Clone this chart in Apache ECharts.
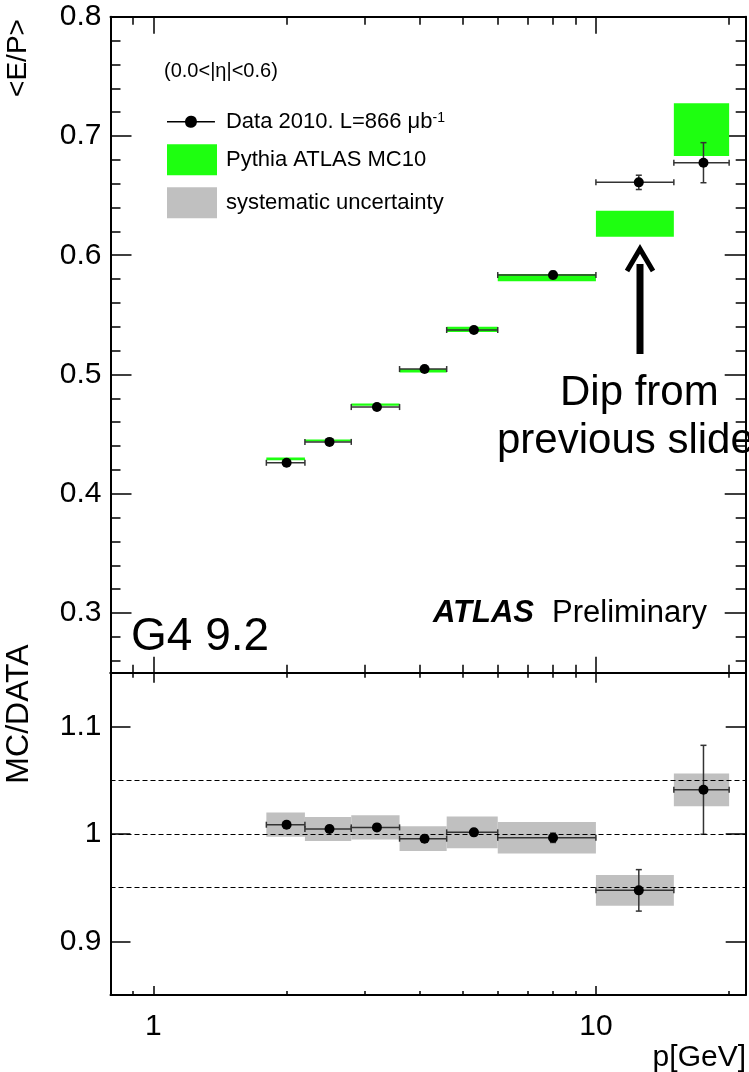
<!DOCTYPE html>
<html>
<head>
<meta charset="utf-8">
<title>E/P vs p</title>
<script src="https://cdn.jsdelivr.net/npm/echarts@6.0.0/dist/echarts.min.js"></script>
<style>
html, body { margin: 0; padding: 0; background: #fff; }
#main { width: 749px; height: 1072px; }
</style>
</head>
<body>
<div id="main"></div>
<script>
// bins in p [GeV]
var binLo = [1.8, 2.2, 2.8, 3.6, 4.6, 6, 10, 15];
var binHi = [2.2, 2.8, 3.6, 4.6, 6, 10, 15, 20];
var binMid = [2.0, 2.5, 3.2, 4.1, 5.3, 8, 12.5, 17.5];

// upper pad: <E/P>
var dataEP = [0.426, 0.4435, 0.4727, 0.5046, 0.5373, 0.5834, 0.6611, 0.6776];
var dataErr = [0.002, 0.002, 0.002, 0.002, 0.002, 0.003, 0.006, 0.0168];
var mcEP = [0.4293, 0.4447, 0.4747, 0.5031, 0.5379, 0.5813, 0.6264, 0.7053];
var mcErr = [0.0012, 0.0009, 0.0009, 0.0015, 0.0022, 0.003, 0.0109, 0.0221];

// lower pad: MC/DATA
var ratio = [1.0085, 1.0045, 1.006, 0.9955, 1.0014, 0.9963, 0.9474, 1.041];
var ratioErr = [0.003, 0.003, 0.003, 0.003, 0.003, 0.0043, 0.0193, 0.0414];
var systErr = [0.0113, 0.0112, 0.0113, 0.0115, 0.0147, 0.0147, 0.0143, 0.0152];
var refLines = [0.95, 1, 1.05];

// ticks
var xTicksMajor = [1, 10];
var xTicksMinor = [0.9, 2, 3, 4, 5, 6, 7, 8, 9, 20];
var yTicksTop = [0.3, 0.4, 0.5, 0.6, 0.7, 0.8];
var yTicksTopMinor = [0.26, 0.28, 0.32, 0.34, 0.36, 0.38, 0.42, 0.44, 0.46, 0.48,
    0.52, 0.54, 0.56, 0.58, 0.62, 0.64, 0.66, 0.68, 0.72, 0.74, 0.76, 0.78];
var yTicksBottom = [0.9, 1, 1.1];

var DATA_NAME = 'Data 2010. L=866 μb-1';
var MC_NAME = 'Pythia ATLAS MC10';
var SYST_NAME = 'systematic uncertainty';
var FONT = '"Liberation Sans", Arial, Helvetica, sans-serif';
var GREEN = '#1eff10';
var GREY = '#c0c0c0';
var DATA_ICON = 'path://M0,5.3H18.04A6,6 0 0 1 29.96,5.3H48V6.7H29.96A6,6 0 0 1 18.04,6.7H0Z';

var mcData = [], dataPts = [], systData = [], ratioPts = [];
for (var i = 0; i < binLo.length; i++) {
    mcData.push([binLo[i], binHi[i], mcEP[i], mcErr[i]]);
    dataPts.push([binLo[i], binHi[i], binMid[i], dataEP[i], dataErr[i]]);
    systData.push([binLo[i], binHi[i], ratio[i], systErr[i]]);
    ratioPts.push([binLo[i], binHi[i], binMid[i], ratio[i], ratioErr[i]]);
}

function xAx(grid, pos, ticks, len, line, labels) {
    return {
        type: 'log', logBase: 10, gridIndex: grid, position: pos, min: 0.8, max: 21.8,
        axisLine: {show: line, onZero: false, lineStyle: {color: '#000', width: 2}},
        axisTick: {show: true, inside: true, length: len, customValues: ticks, lineStyle: {color: '#000', width: 1.5}},
        axisLabel: labels ? {show: true, customValues: labels, margin: 17, color: '#000', fontSize: 30, fontFamily: FONT} : {show: false},
        splitLine: {show: false}
    };
}

function yAx(grid, pos, min, max, ticks, len, line, labels) {
    return {
        type: 'value', gridIndex: grid, position: pos, min: min, max: max,
        axisLine: {show: line, onZero: false, lineStyle: {color: '#000', width: 2}},
        axisTick: {show: true, inside: true, length: len, customValues: ticks, lineStyle: {color: '#000', width: 1.5}},
        axisLabel: labels ? {show: true, customValues: labels, margin: 9, color: '#000', fontSize: 30, fontFamily: FONT} : {show: false},
        splitLine: {show: false}
    };
}

function boxRenderer(color) {
    return function (params, api) {
        var p1 = api.coord([api.value(0), api.value(2) + api.value(3)]);
        var p2 = api.coord([api.value(1), api.value(2) - api.value(3)]);
        return {
            type: 'rect',
            shape: {x: p1[0], y: p1[1], width: p2[0] - p1[0], height: p2[1] - p1[1]},
            style: {fill: color}
        };
    };
}

function renderPoint(params, api) {
    var val = api.value(3), err = api.value(4);
    var c = api.coord([api.value(2), val]);
    var xl = api.coord([api.value(0), val])[0];
    var xr = api.coord([api.value(1), val])[0];
    var yt = api.coord([api.value(2), val + err])[1];
    var yb = api.coord([api.value(2), val - err])[1];
    var ls = {stroke: '#333', lineWidth: 1.5};
    return {
        type: 'group',
        children: [
            {type: 'line', shape: {x1: xl, y1: c[1], x2: xr, y2: c[1]}, style: ls},
            {type: 'line', shape: {x1: xl, y1: c[1] - 3, x2: xl, y2: c[1] + 3}, style: ls},
            {type: 'line', shape: {x1: xr, y1: c[1] - 3, x2: xr, y2: c[1] + 3}, style: ls},
            {type: 'line', shape: {x1: c[0], y1: yt, x2: c[0], y2: yb}, style: ls},
            {type: 'line', shape: {x1: c[0] - 3, y1: yt, x2: c[0] + 3, y2: yt}, style: ls},
            {type: 'line', shape: {x1: c[0] - 3, y1: yb, x2: c[0] + 3, y2: yb}, style: ls},
            {type: 'circle', shape: {cx: c[0], cy: c[1], r: 5}, style: {fill: '#000'}}
        ]
    };
}

var chart = echarts.init(document.getElementById('main'));

var option = {
    backgroundColor: '#fff',
    animation: false,
    grid: [
        {left: 110.5, right: 3.3, top: 16.7, height: 656, outerBoundsMode: 'none'},
        {left: 110.5, right: 3.3, top: 672.7, height: 322.3, outerBoundsMode: 'none'}
    ],
    xAxis: [
        xAx(0, 'bottom', xTicksMajor, 16, true, null),
        xAx(0, 'bottom', xTicksMinor, 8, false, null),
        xAx(0, 'top', xTicksMajor, 17, true, null),
        xAx(0, 'top', xTicksMinor, 8, false, null),
        xAx(1, 'bottom', xTicksMajor, 9, true, xTicksMajor),
        xAx(1, 'bottom', xTicksMinor, 4, false, null),
        xAx(1, 'top', xTicksMajor, 10, true, null),
        xAx(1, 'top', xTicksMinor, 5, false, null)
    ],
    yAxis: [
        yAx(0, 'left', 0.25, 0.8, yTicksTop, 21, true, yTicksTop),
        yAx(0, 'left', 0.25, 0.8, yTicksTopMinor, 10, false, null),
        yAx(0, 'right', 0.25, 0.8, yTicksTop, 21, true, null),
        yAx(0, 'right', 0.25, 0.8, yTicksTopMinor, 10, false, null),
        yAx(1, 'left', 0.85, 1.15, yTicksBottom, 20, true, yTicksBottom),
        yAx(1, 'right', 0.85, 1.15, yTicksBottom, 20, true, null)
    ],
    legend: [
        {
            selectedMode: false, orient: 'vertical', left: 162, top: 105.7,
            itemWidth: 48, itemHeight: 12,
            data: [{name: DATA_NAME, icon: DATA_ICON}],
            itemStyle: {borderWidth: 0},
            formatter: function () { return '{a|Data 2010. L=866 μb}{s|-1}'; },
            textStyle: {
                color: '#000', fontSize: 22, fontFamily: FONT, padding: [0, 0, 0, 6],
                rich: {
                    a: {color: '#000', fontSize: 22, fontFamily: FONT},
                    s: {color: '#000', fontSize: 14, fontFamily: FONT, verticalAlign: 'top'}
                }
            }
        },
        {
            selectedMode: false, orient: 'vertical', left: 162, top: 139.3,
            itemWidth: 50, itemHeight: 31, itemGap: 12,
            data: [{name: MC_NAME, icon: 'rect'}, {name: SYST_NAME, icon: 'rect'}],
            itemStyle: {borderWidth: 0},
            textStyle: {color: '#000', fontSize: 22, fontFamily: FONT, padding: [0, 0, 0, 4]}
        }
    ],
    series: [
        {
            name: MC_NAME, type: 'custom', xAxisIndex: 0, yAxisIndex: 0, z: 2,
            renderItem: boxRenderer(GREEN), itemStyle: {color: GREEN},
            encode: {x: [0, 1], y: 2}, data: mcData
        },
        {
            name: DATA_NAME, type: 'custom', xAxisIndex: 0, yAxisIndex: 0, z: 3,
            renderItem: renderPoint, itemStyle: {color: '#000'},
            encode: {x: [0, 1, 2], y: 3}, data: dataPts
        },
        {
            name: SYST_NAME, type: 'custom', xAxisIndex: 4, yAxisIndex: 4, z: 2,
            renderItem: boxRenderer(GREY), itemStyle: {color: GREY},
            encode: {x: [0, 1], y: 2}, data: systData
        },
        {
            name: 'MC/DATA', type: 'custom', xAxisIndex: 4, yAxisIndex: 4, z: 3,
            renderItem: renderPoint, itemStyle: {color: '#000'},
            encode: {x: [0, 1, 2], y: 3}, data: ratioPts,
            markLine: {
                silent: true, symbol: ['none', 'none'],
                label: {show: false},
                lineStyle: {color: '#000', width: 1, type: [5, 3]},
                data: refLines.map(function (v) { return {yAxis: v}; })
            }
        }
    ],
    graphic: [
        {type: 'text', x: 18, y: 58, rotation: Math.PI / 2,
            style: {text: '<E/P>', fill: '#000', font: '28px ' + FONT, align: 'center', verticalAlign: 'middle'}},
        {type: 'text', x: 19, y: 714, rotation: Math.PI / 2,
            style: {text: 'MC/DATA', fill: '#000', font: '32px ' + FONT, align: 'center', verticalAlign: 'middle'}},
        {type: 'text', x: 746, y: 1058,
            style: {text: 'p[GeV]', fill: '#000', font: '30px ' + FONT, align: 'right', verticalAlign: 'middle'}},
        {type: 'text', x: 164, y: 71,
            style: {text: '(0.0<|η|<0.6)', fill: '#000', font: '20px ' + FONT, align: 'left', verticalAlign: 'middle'}},
        {type: 'text', x: 433, y: 613,
            style: {
                text: '{b|ATLAS}{n|Preliminary}', fill: '#000', align: 'left', verticalAlign: 'middle',
                rich: {
                    b: {fontSize: 31, fontWeight: 'bold', fontStyle: 'italic', fontFamily: FONT, fill: '#000'},
                    n: {fontSize: 31, fontFamily: FONT, fill: '#000', padding: [0, 0, 0, 18]}
                }
            }},
        {type: 'text', x: 131, y: 637,
            style: {text: 'G4 9.2', fill: '#000', font: '46px ' + FONT, align: 'left', verticalAlign: 'middle'}},
        {type: 'text', x: 560, y: 393,
            style: {text: 'Dip from', fill: '#000', font: '42px ' + FONT, align: 'left', verticalAlign: 'middle'}},
        {type: 'text', x: 497, y: 441,
            style: {text: 'previous slide', fill: '#000', font: '42px ' + FONT, align: 'left', verticalAlign: 'middle'}},
        {type: 'line', shape: {x1: 640, y1: 264, x2: 640, y2: 354}, style: {stroke: '#000', lineWidth: 7}},
        {type: 'polyline', shape: {points: [[627, 271], [640, 249], [653, 271]]},
            style: {stroke: '#000', lineWidth: 5, fill: null, lineJoin: 'miter'}}
    ]
};

chart.setOption(option);
</script>
</body>
</html>
